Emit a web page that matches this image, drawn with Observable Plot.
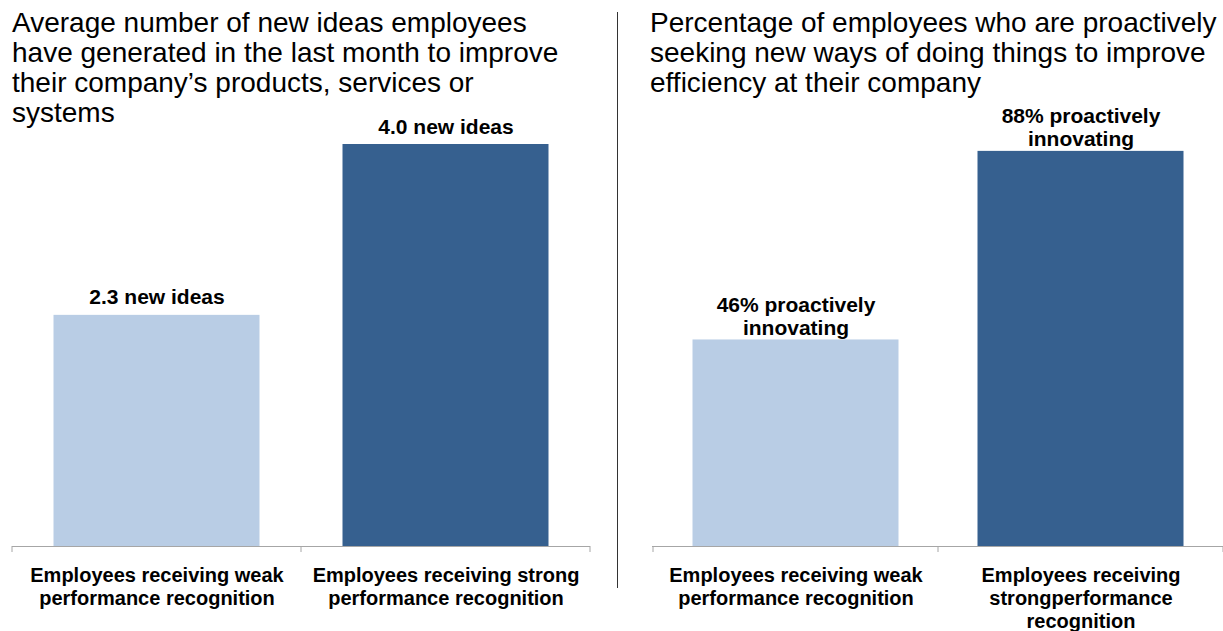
<!DOCTYPE html>
<html><head><meta charset="utf-8">
<script src="https://cdn.jsdelivr.net/npm/d3@7"></script>
<script src="https://cdn.jsdelivr.net/npm/@observablehq/plot@0.6"></script>
<style>
body{margin:0;background:#fff;font-family:"Liberation Sans",Arial,sans-serif;}
#wrap{position:relative;width:1223px;height:631px;overflow:hidden;background:#fff;}
.title{position:absolute;top:8px;font-size:28px;line-height:30px;color:#000;white-space:nowrap;}
.panel{position:absolute;top:0;}
#divider{position:absolute;left:617px;top:12px;width:1px;height:576px;background:#333;}
</style></head><body>
<div id="wrap">
 <div class="panel" id="p1" style="left:0px"></div>
 <div class="panel" id="p2" style="left:612px"></div>
 <div class="title" id="t1" style="left:12px"></div>
 <div class="title" id="t2" style="left:650px"></div>
 <div id="divider"></div>
</div>
<script>
// ---- data ----
const ideasCategories = ["Employees receiving weak\nperformance recognition", "Employees receiving strong\nperformance recognition"];
const ideasValues = [2.3, 4.0];
const ideasLabels = ["2.3 new ideas", "4.0 new ideas"];

const innovCategories = ["Employees receiving weak\nperformance recognition", "Employees receiving\nstrongperformance\nrecognition"];
const innovValues = [46, 88];
const innovLabels = ["46% proactively\ninnovating", "88% proactively\ninnovating"];

const barColors = ["#B9CDE5", "#36608F"];

const titleLeft = ["Average number of new ideas employees", "have generated in the last month to improve", "their company’s products, services or", "systems"];
const titleRight = ["Percentage of employees who are proactively", "seeking new ways of doing things to improve", "efficiency at their company"];

// ---- helpers ----
function setTitle(id, lines) {
  const el = document.getElementById(id);
  lines.forEach((l, i) => {
    if (i) el.appendChild(document.createElement("br"));
    el.appendChild(document.createTextNode(l));
  });
}
setTitle("t1", titleLeft);
setTitle("t2", titleRight);

const axisGray = "#A6A6A6";

function bandEdgeTicks(cats) {
  return (index, scales, values, dims) => {
    const x = scales.x, y0 = scales.y(0);
    const edges = cats.map(c => x(c)).concat([dims.width - dims.marginRight]);
    const g = d3.create("svg:g");
    edges.forEach(e => {
      g.append("line").attr("x1", e).attr("x2", e).attr("y1", y0).attr("y2", y0 + 6)
        .attr("stroke", axisGray).attr("stroke-width", 1);
    });
    return g.node();
  };
}

function panel({cats, vals, labels, width, marginLeft, marginRight, yMax, inset, labelDy}) {
  const data = cats.map((c, i) => ({cat: c, value: vals[i], label: labels[i]}));
  return Plot.plot({
    width, height: 631,
    marginLeft, marginRight, marginTop: 0, marginBottom: 85,
    style: {fontFamily: "'Liberation Sans', Arial, sans-serif", background: "transparent"},
    x: {domain: cats, padding: 0, axis: null},
    y: {domain: [0, yMax], axis: null},
    color: {domain: cats, range: barColors},
    marks: [
      Plot.barY(data, {x: "cat", y: "value", fill: "cat", insetLeft: inset, insetRight: inset}),
      Plot.ruleY([0], {stroke: axisGray, strokeWidth: 1}),
      bandEdgeTicks(cats),
      Plot.text(data, {x: "cat", y: "value", text: "label", lineAnchor: "bottom", dy: labelDy,
        fontSize: 21, fontWeight: "bold", fill: "#000", lineHeight: 1.1}),
      Plot.text(data, {x: "cat", y: () => 0, text: "cat", lineAnchor: "top", dy: 19,
        fontSize: 20, fontWeight: "bold", fill: "#000", lineHeight: 1.15})
    ]
  });
}

document.getElementById("p1").appendChild(panel({
  cats: ideasCategories, vals: ideasValues, labels: ideasLabels,
  width: 600, marginLeft: 12, marginRight: 10, yMax: 546 / 100.5, inset: 41.5, labelDy: -11
}));
document.getElementById("p2").appendChild(panel({
  cats: innovCategories, vals: innovValues, labels: innovLabels,
  width: 611, marginLeft: 40, marginRight: 0, yMax: 546 / 4.49, inset: 39.5, labelDy: -5
}));
</script>
</body></html>
